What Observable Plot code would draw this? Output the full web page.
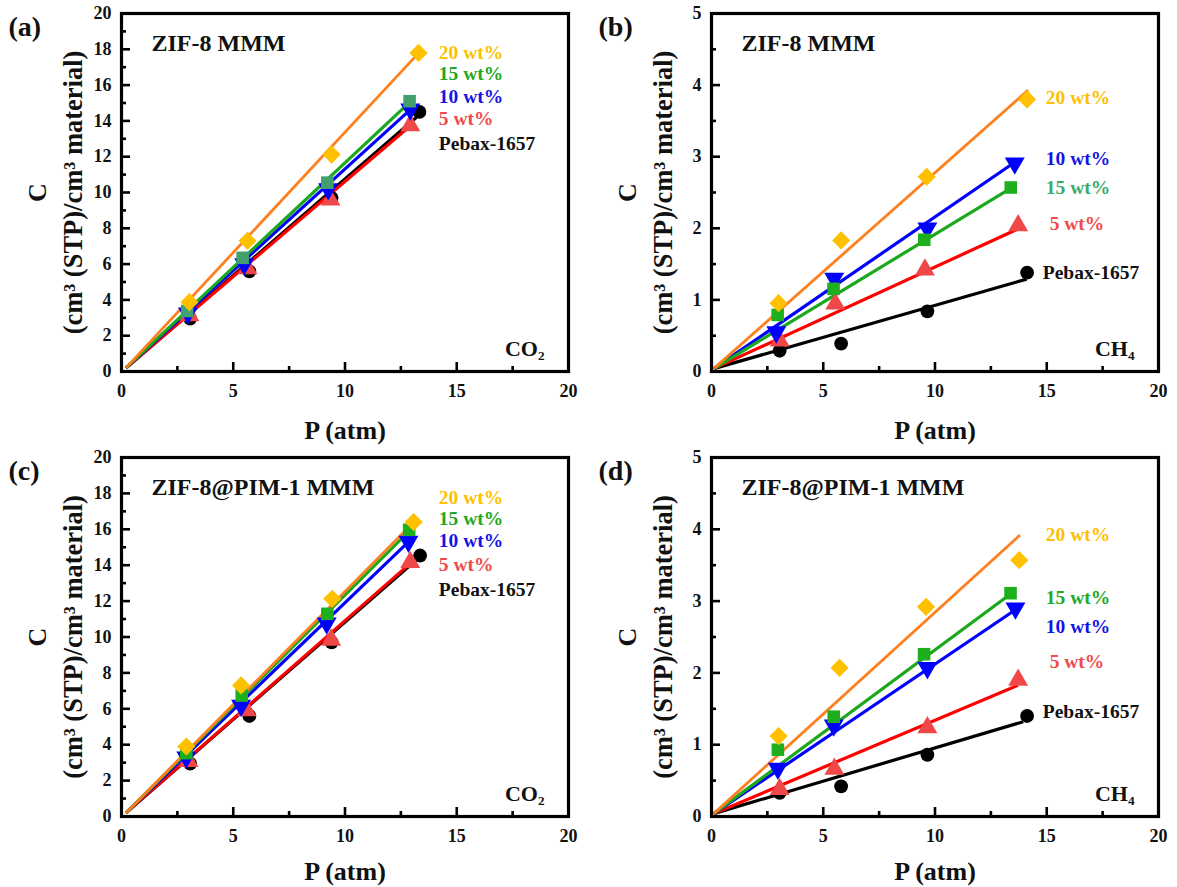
<!DOCTYPE html>
<html>
<head>
<meta charset="utf-8">
<script src="https://cdn.jsdelivr.net/npm/d3@7"></script>
<script src="https://cdn.jsdelivr.net/npm/@observablehq/plot@0.6"></script>
<style>
  body { margin: 0; background: #fff; }
  #fig { position: relative; width: 1177px; height: 887px; background: #fff; }
  .panel { position: absolute; }
</style>
</head>
<body>
<div id="fig"></div>
<script>
// Series order in every array below: Pebax-1657, 5 wt%, 10 wt%, 15 wt%, 20 wt%
const series = ["Pebax-1657", "5 wt%", "10 wt%", "15 wt%", "20 wt%"];
const xTicks = [0, 5, 10, 15, 20];
const xMinor = [2.5, 7.5, 12.5, 17.5];
const co2Ticks = [0, 2, 4, 6, 8, 10, 12, 14, 16, 18, 20];
const co2Minor = [1, 3, 5, 7, 9, 11, 13, 15, 17, 19];
const ch4Ticks = [0, 1, 2, 3, 4, 5];
const ch4Minor = [0.5, 1.5, 2.5, 3.5, 4.5];

// (a) ZIF-8 MMM, CO2 sorption
const aPressure = [
  [3.07, 5.72, 9.40, 13.33],
  [3.04, 5.64, 9.35, 12.92],
  [2.97, 5.49, 9.25, 12.92],
  [2.94, 5.42, 9.21, 12.89],
  [3.04, 5.64, 9.40, 13.29]
];
const aUptake = [
  [2.95, 5.60, 9.70, 14.50],
  [3.13, 5.75, 9.60, 13.75],
  [3.25, 6.00, 10.20, 14.65],
  [3.38, 6.35, 10.55, 15.10],
  [3.87, 7.30, 12.12, 17.80]
];
const aFitStart = [0.2, 0.2];
const aFitEnd = [[13.2, 14.2], [12.9, 13.7], [12.9, 14.6], [12.9, 15.05], [13.3, 17.8]];
const aLabelAt = [[14.2, 12.74], [14.2, 14.13], [14.2, 15.36], [14.2, 16.65], [14.2, 17.82]];

// (b) ZIF-8 MMM, CH4 sorption
const bPressure = [
  [3.05, 5.80, 9.66, 14.12],
  [3.05, 5.54, 9.55, 13.72],
  [2.90, 5.49, 9.66, 13.57],
  [2.96, 5.46, 9.52, 13.39],
  [3.00, 5.80, 9.63, 14.12]
];
const bUptake = [
  [0.29, 0.39, 0.84, 1.38],
  [0.43, 0.945, 1.42, 2.04],
  [0.55, 1.30, 2.00, 2.91],
  [0.79, 1.155, 1.84, 2.57],
  [0.954, 1.83, 2.72, 3.80]
];
const bFitStart = [0.1, 0.04];
const bFitEnd = [[14.1, 1.29], [13.7, 1.99], [13.6, 2.93], [13.4, 2.56], [14.17, 3.93]];
const bLabelAt = [[14.82, 1.38], [15.13, 2.07], [14.96, 2.97], [14.96, 2.56], [14.96, 3.83]];

// (c) ZIF-8@PIM-1 MMM, CO2 sorption
const cPressure = [
  [3.07, 5.72, 9.40, 13.36],
  [3.00, 5.60, 9.38, 12.92],
  [2.90, 5.35, 9.18, 12.84],
  [2.90, 5.38, 9.21, 12.87],
  [2.90, 5.35, 9.43, 13.07]
];
const cUptake = [
  [2.95, 5.60, 9.70, 14.54],
  [3.08, 5.90, 9.84, 14.17],
  [3.30, 6.18, 10.77, 15.32],
  [3.53, 6.74, 11.29, 15.97],
  [3.90, 7.30, 12.13, 16.40]
];
const cFitStart = [0.2, 0.2];
const cFitEnd = [[13.2, 14.3], [12.92, 14.1], [12.84, 15.3], [12.87, 15.9], [13.07, 16.4]];
const cLabelAt = [[14.2, 12.65], [14.2, 14.04], [14.2, 15.38], [14.2, 16.6], [14.2, 17.77]];

// (d) ZIF-8@PIM-1 MMM, CH4 sorption
const dPressure = [
  [3.05, 5.80, 9.66, 14.12],
  [3.05, 5.50, 9.66, 13.72],
  [2.97, 5.47, 9.66, 13.60],
  [2.97, 5.47, 9.51, 13.38],
  [3.00, 5.73, 9.60, 13.77]
];
const dUptake = [
  [0.33, 0.42, 0.86, 1.40],
  [0.38, 0.66, 1.24, 1.90],
  [0.67, 1.27, 2.07, 2.90],
  [0.93, 1.39, 2.26, 3.11],
  [1.12, 2.07, 2.92, 3.57]
];
const dFitStart = [0.1, 0.04];
const dFitEnd = [[13.95, 1.32], [13.72, 1.83], [13.6, 2.88], [13.38, 3.10], [13.8, 3.92]];
const dLabelAt = [[14.82, 1.46], [15.13, 2.15], [14.96, 2.64], [14.96, 3.05], [14.96, 3.92]];

// Styling per series
const markerSymbol = ["circle", "triangle", "triangle", "square", "diamond2"];
const markerRotate = [0, 0, 180, 0, 0];
const markerR = [6.9, 7.4, 7.4, 7.1, 8.2];
const markerFill = ["#000000", "#f04848", "#0000ff", "#1daf1d", "#ffc000"];
const lineColor = ["#000000", "#ff0000", "#0000ff", "#1ca81c", "#ff7f1e"];
const lineWidth = [3.2, 3.2, 3.2, 3.2, 2.8];
const labelColor = ["#111111", "#f04a4a", "#1414e6", "#22a822", "#ffc000"];

const FONT = "'Liberation Serif', 'Times New Roman', serif";

function panel(opts) {
  const {
    pressure, uptake, fitStart, fitEnd, labelAt, letter, title, gas,
    yMax, yTicks, yMinor, squareFill, label15Fill, xLabelOffset,
    left, top, width, height, mL, mR, mT, mB
  } = opts;
  const plotW = width - mL - mR;
  const plotH = height - mT - mB;

  const fills = markerFill.slice();
  if (squareFill) fills[3] = squareFill;
  const labelFills = labelColor.slice();
  if (label15Fill) labelFills[3] = label15Fill;

  const fits = series.map((s, i) => ({
    s, x1: fitStart[0], y1: fitStart[1], x2: fitEnd[i][0], y2: fitEnd[i][1],
    stroke: lineColor[i], w: lineWidth[i]
  }));
  const labels = series.map((s, i) => ({ s, x: labelAt[i][0], y: labelAt[i][1], fill: labelFills[i] }));

  const marks = [
    // inward major and minor ticks
    Plot.tickY(yTicks, { y: d => d, stroke: "black", strokeWidth: 2.6, insetRight: plotW - 9 }),
    Plot.tickY(yMinor, { y: d => d, stroke: "black", strokeWidth: 2.6, insetRight: plotW - 5 }),
    Plot.tickX(xTicks, { x: d => d, stroke: "black", strokeWidth: 2.6, insetTop: plotH - 9 }),
    Plot.tickX(xMinor, { x: d => d, stroke: "black", strokeWidth: 2.6, insetTop: plotH - 5 }),
    Plot.axisX({ ticks: xTicks, tickSize: 0, tickPadding: 13, fontSize: 18, label: null, tickFormat: d => `${d}` }),
    Plot.axisY({ ticks: yTicks, tickSize: 0, tickPadding: 10, fontSize: 18, label: null, tickFormat: d => `${d}` })
  ];

  // fitted lines
  fits.forEach(f => {
    marks.push(Plot.link([f], {
      x1: "x1", y1: "y1", x2: "x2", y2: "y2",
      stroke: f.stroke, strokeWidth: f.w, strokeLinecap: "butt"
    }));
  });

  // measured points
  series.forEach((s, i) => {
    const pts = pressure[i].map((p, j) => ({ P: p, C: uptake[i][j] }));
    marks.push(Plot.dot(pts, {
      x: "P", y: "C", symbol: markerSymbol[i], r: markerR[i],
      fill: fills[i], stroke: "none", rotate: markerRotate[i]
    }));
  });

  const txt = { textAnchor: "middle", lineAnchor: "middle", fill: "#111" };
  marks.push(
    Plot.frame({ stroke: "black", strokeWidth: 3.2 }),
    Plot.text(labels, { x: "x", y: "y", text: "s", fill: "fill", textAnchor: "start", lineAnchor: "middle", fontSize: 19.5 }),
    Plot.text([title], { ...txt, frameAnchor: "top-left", dx: 30, dy: 30, textAnchor: "start", fontSize: 24 }),
    Plot.text([gas], { ...txt, frameAnchor: "bottom-right", dx: -24, dy: -23, textAnchor: "end", fontSize: 22 }),
    Plot.text([letter], { ...txt, frameAnchor: "top-left", dx: -113, dy: 14, textAnchor: "start", fontSize: 28 }),
    Plot.text(["C"], { ...txt, frameAnchor: "left", rotate: -90, dx: -84, fontSize: 26 }),
    Plot.text(["(cm³ (STP)/cm³ material)"], { ...txt, frameAnchor: "left", rotate: -90, dx: -48, fontSize: 26.5 }),
    Plot.text(["P (atm)"], { ...txt, frameAnchor: "bottom", dy: xLabelOffset, fontSize: 26 })
  );

  const svg = Plot.plot({
    width, height,
    marginLeft: mL, marginRight: mR, marginTop: mT, marginBottom: mB,
    x: { domain: [0, 20] },
    y: { domain: [0, yMax] },
    color: { type: "identity" },
    style: { fontFamily: FONT, fontWeight: "bold", background: "transparent", overflow: "visible", color: "#111" },
    marks
  });
  const div = document.createElement("div");
  div.className = "panel";
  div.style.left = left + "px";
  div.style.top = top + "px";
  div.style.width = width + "px";
  div.appendChild(svg);
  document.getElementById("fig").appendChild(div);
}

panel({
  pressure: aPressure, uptake: aUptake, fitStart: aFitStart, fitEnd: aFitEnd, labelAt: aLabelAt,
  letter: "(a)", title: "ZIF-8 MMM", gas: "CO₂", yMax: 20, yTicks: co2Ticks, yMinor: co2Minor,
  squareFill: "#42a06c", xLabelOffset: 59,
  left: 0, top: 0, width: 590, height: 444, mL: 121, mR: 22, mT: 13, mB: 73
});
panel({
  pressure: bPressure, uptake: bUptake, fitStart: bFitStart, fitEnd: bFitEnd, labelAt: bLabelAt,
  letter: "(b)", title: "ZIF-8 MMM", gas: "CH₄", yMax: 5, yTicks: ch4Ticks, yMinor: ch4Minor,
  label15Fill: "#3aac68", xLabelOffset: 59,
  left: 590, top: 0, width: 587, height: 444, mL: 121, mR: 19, mT: 13, mB: 73
});
panel({
  pressure: cPressure, uptake: cUptake, fitStart: cFitStart, fitEnd: cFitEnd, labelAt: cLabelAt,
  letter: "(c)", title: "ZIF-8@PIM-1 MMM", gas: "CO₂", yMax: 20, yTicks: co2Ticks, yMinor: co2Minor,
  xLabelOffset: 55,
  left: 0, top: 444, width: 590, height: 443, mL: 121, mR: 22, mT: 13, mB: 71
});
panel({
  pressure: dPressure, uptake: dUptake, fitStart: dFitStart, fitEnd: dFitEnd, labelAt: dLabelAt,
  letter: "(d)", title: "ZIF-8@PIM-1 MMM", gas: "CH₄", yMax: 5, yTicks: ch4Ticks, yMinor: ch4Minor,
  xLabelOffset: 55,
  left: 590, top: 444, width: 587, height: 443, mL: 121, mR: 19, mT: 13, mB: 71
});
</script>
</body>
</html>
